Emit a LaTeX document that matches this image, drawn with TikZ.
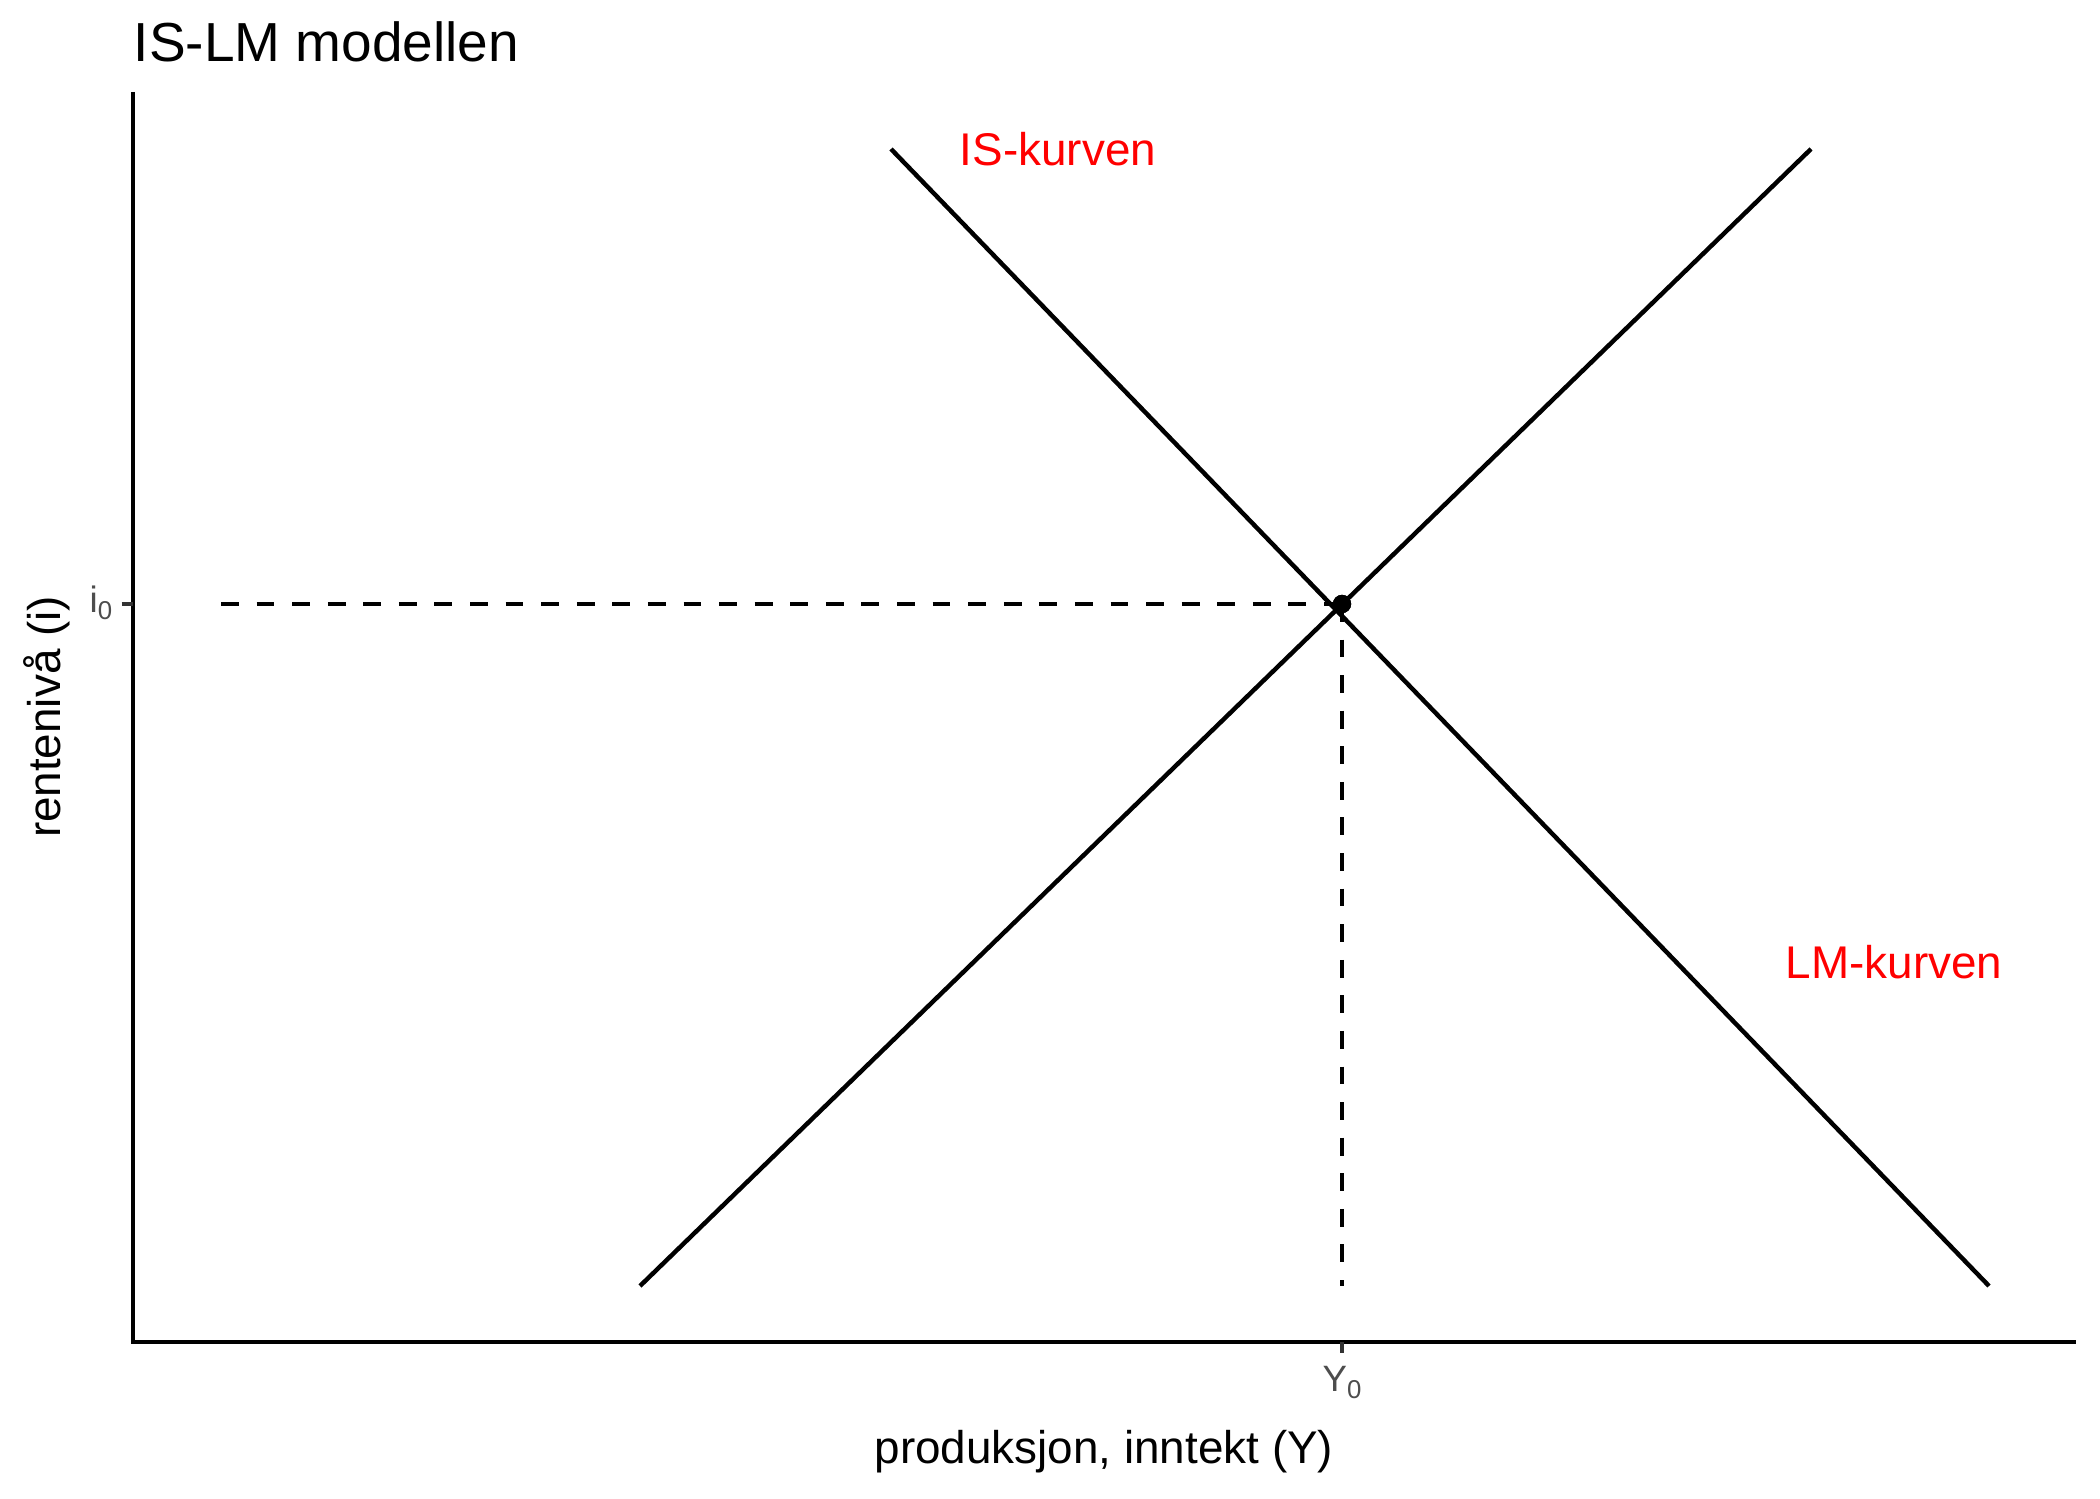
\documentclass[tikz,border=0pt]{standalone}
\usepackage{fontspec}
\setmainfont{Liberation Sans}
\definecolor{grey30}{HTML}{4D4D4D}
\definecolor{grey20}{HTML}{333333}
\definecolor{labred}{HTML}{FF0000}
\begin{document}
\begin{tikzpicture}[x=0.24pt,y=-0.24pt,
  curve/.style={line width=1.07pt, black},
  axisline/.style={line width=1.07pt, black, line join=miter},
  guide/.style={line width=1.07pt, black, dash pattern=on 4.27pt off 4.27pt},
  tickmark/.style={line width=1.07pt, grey20},
  ticklab/.style={inner sep=0pt, text=grey30, font=\fontsize{8.8}{10}\selectfont},
  axtitle/.style={inner sep=0pt, font=\fontsize{11}{13}\selectfont},
  curvelab/.style={inner sep=0pt, text=labred, font=\fontsize{11}{13}\selectfont},
  eqdot/.style={circle, fill=black, inner sep=0pt, minimum size=4.4pt}]
\useasboundingbox (0,0) rectangle (2100,1499);
\fill[white] (0,0) rectangle (2100,1499);
% axes
\coordinate (o) at (133,1342);
\coordinate (ytop) at (133,92);
\coordinate (xend) at (2076,1342);
% curve ends
\coordinate (ISa) at (891,149);
\coordinate (ISb) at (1989,1286);
\coordinate (LMa) at (640,1286);
\coordinate (LMb) at (1811,149);
% guide ends
\coordinate (hstart) at (221,604);
\coordinate (vend) at (1342,1286);
% ticks
\coordinate (ti0a) at (121.5,604);
\coordinate (ti0b) at (133,604);
\coordinate (tY0a) at (1342,1342);
\coordinate (tY0b) at (1342,1353.5);
\node[eqdot] (eq) at (1342,604) {};
\draw[guide] (hstart) -- (eq.center);
\draw[guide] (eq.center) -- (vend);
\draw[curve] (ISa) -- (ISb);
\draw[curve] (LMa) -- (LMb);
\node[eqdot] at (eq) {};
\draw[axisline] (ytop) -- (o) -- (xend);
\draw[tickmark] (ti0a) -- (ti0b);
\draw[tickmark] (tY0a) -- (tY0b);
% labels
\node[ticklab, anchor=base east] (i0) at (113,613) {i\raisebox{-0.35ex}{\fontsize{6.2}{7}\selectfont 0}};
\node[ticklab, anchor=base] (Y0) at (1342,1392) {Y\raisebox{-0.35ex}{\fontsize{6.2}{7}\selectfont 0}};
\node[inner sep=0pt, anchor=base west, font=\fontsize{13.2}{15}\selectfont] (title) at (133,62) {IS-LM modellen};
\node[axtitle, anchor=base] (xt) at (1104,1464) {produksjon, inntekt (Y)};
\node[axtitle, anchor=base, rotate=90] (yt) at (60,717) {renteniv\r{a} (i)};
\node[curvelab, anchor=base] (islab) at (1058,166) {IS-kurven};
\node[curvelab, anchor=base] (lmlab) at (1894,979) {LM-kurven};
\end{tikzpicture}
\end{document}
